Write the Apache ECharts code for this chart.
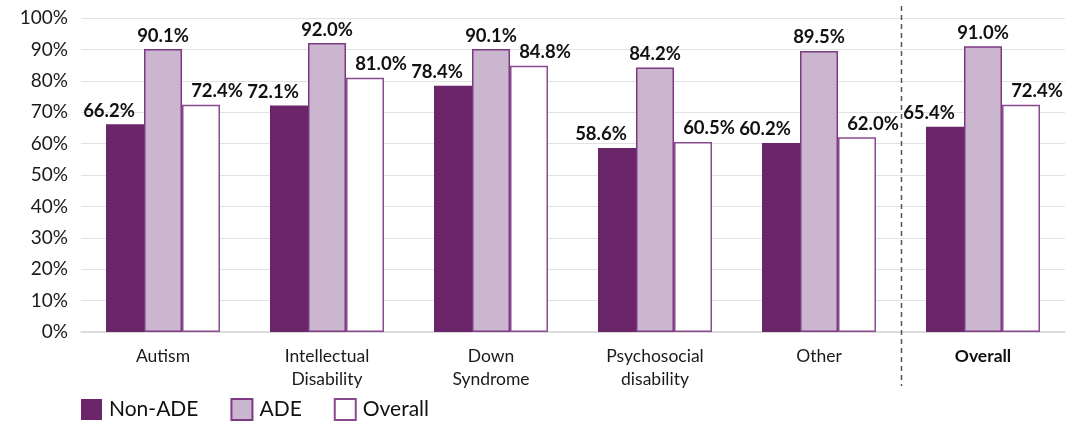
<!DOCTYPE html>
<html>
<head>
<meta charset="utf-8">
<script src="https://cdn.jsdelivr.net/npm/echarts@6/dist/echarts.min.js"></script>
<style>
  html, body { margin: 0; padding: 0; background: #fff; }
  #chart { width: 1067px; height: 421px; }
</style>
</head>
<body>
<div id="chart"></div>
<script>
// Employment outcomes by disability type, split by ADE status
const categories = ['Autism', 'Intellectual\nDisability', 'Down\nSyndrome', 'Psychosocial\ndisability', 'Other', 'Overall'];
const nonAde = [66.2, 72.1, 78.4, 58.6, 60.2, 65.4];
const ade = [90.1, 92.0, 90.1, 84.2, 89.5, 91.0];
const overall = [72.4, 81.0, 84.8, 60.5, 62.0, 72.4];
const yTicks = [0, 10, 20, 30, 40, 50, 60, 70, 80, 90, 100];

const FONT = 'Lato';
const chart = echarts.init(document.getElementById('chart'), null, { renderer: 'canvas' });

function labelCfg(dx) {
  return {
    show: true,
    position: 'top',
    distance: 4,
    offset: [dx, 0],
    formatter: p => p.value.toFixed(1) + '%',
    fontFamily: FONT,
    fontWeight: 'bold',
    fontSize: 18.5,
    color: '#111'
  };
}

const option = {
  animation: false,
  textStyle: { fontFamily: FONT },
  grid: { left: 81, right: 2, top: 18, bottom: 89, containLabel: false },
  legend: {
    left: 76,
    top: 393,
    padding: [5, 5, 5, 5],
    itemWidth: 21,
    itemHeight: 21,
    itemGap: 32,
    icon: 'rect',
    textStyle: { fontFamily: FONT, fontSize: 21, color: '#111', padding: [0, 0, 0, 2] },
    data: ['Non-ADE', 'ADE', 'Overall']
  },
  xAxis: {
    type: 'category',
    data: categories,
    axisTick: { show: false },
    axisLine: { lineStyle: { color: '#d6d6d6', width: 1.5 } },
    axisLabel: {
      margin: 13,
      fontFamily: FONT,
      fontSize: 17.5,
      lineHeight: 23,
      color: '#1a1a1a',
      formatter: v => v === 'Overall' ? '{b|' + v + '}' : v,
      rich: { b: { fontWeight: 'bold', fontSize: 17.5, fontFamily: FONT, color: '#111' } }
    }
  },
  yAxis: {
    type: 'value',
    min: yTicks[0],
    max: yTicks[yTicks.length - 1],
    interval: yTicks[1] - yTicks[0],
    axisLine: { show: false },
    axisTick: { show: false },
    splitLine: { lineStyle: { color: '#e2e2e2', width: 1 } },
    axisLabel: {
      margin: 13,
      fontFamily: FONT,
      fontSize: 19,
      color: '#1a1a1a',
      formatter: v => v + '%'
    }
  },
  series: [
    {
      name: 'Non-ADE', type: 'bar', data: nonAde, barWidth: 38, barGap: '0%',
      itemStyle: { color: '#6b2569' },
      label: labelCfg(-16)
    },
    {
      name: 'ADE', type: 'bar', data: ade, barWidth: 38, barGap: '0%',
      itemStyle: { color: '#cbb6d0', borderColor: '#7e3a83', borderWidth: 1.5 },
      label: labelCfg(0)
    },
    {
      name: 'Overall', type: 'bar', data: overall, barWidth: 38, barGap: '0%',
      itemStyle: { color: '#ffffff', borderColor: '#8a4a8e', borderWidth: 1.5 },
      label: labelCfg(16)
    }
  ]
};

chart.setOption(option);

// Dashed separator between the disability groups and the overall group
const xLeft = chart.convertToPixel({ xAxisIndex: 0 }, categories[categories.length - 2]);
const xRight = chart.convertToPixel({ xAxisIndex: 0 }, categories[categories.length - 1]);
const xSep = Math.round((xLeft + xRight) / 2) + 0.5;
chart.setOption({
  graphic: [{
    type: 'line',
    shape: { x1: xSep, y1: 6, x2: xSep, y2: 386 },
    style: { stroke: '#555', lineWidth: 1.5, lineDash: [5, 4] },
    z: 10
  }]
});
</script>
</body>
</html>
